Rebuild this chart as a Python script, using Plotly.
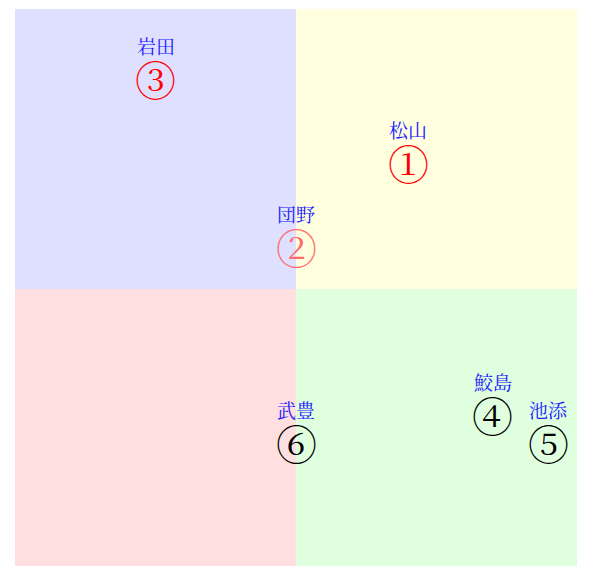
import plotly.graph_objects as go

# riders and their positions
names = ['松山', '団野', '岩田', '鮫島', '池添', '武豊']
marks = ['①', '②', '③', '④', '⑤', '⑥']
x_vals = [0.4, 0.0, -0.5, 0.7, 0.9, 0.0]
y_vals = [0.45, 0.15, 0.75, -0.45, -0.55, -0.55]
mark_colors = ['#ff0000', '#ff6a6a', '#ff0000', '#000000', '#000000', '#000000']

# quadrant backgrounds
quad_x = [(-1, 0), (0, 1), (-1, 0), (0, 1)]
quad_y = [(0, 1), (0, 1), (-1, 0), (-1, 0)]
quad_colors = ['#dfdfff', '#ffffdf', '#ffdfdf', '#dfffdf']

fig = go.Figure()

for (x0, x1), (y0, y1), c in zip(quad_x, quad_y, quad_colors):
    fig.add_shape(type='rect', x0=x0, x1=x1, y0=y0, y1=y1, xref='x', yref='y',
                  fillcolor=c, line=dict(width=0), layer='below')

# invisible points so the axes have data
fig.add_trace(go.Scatter(x=x_vals, y=y_vals, mode='markers', marker=dict(opacity=0),
                         hoverinfo='skip', showlegend=False))

serif = 'Noto Serif CJK JP, DejaVu Serif, Noto Sans CJK JP'
for n, m, c, x, y in zip(names, marks, mark_colors, x_vals, y_vals):
    fig.add_annotation(x=x, y=y, text=m, showarrow=False, yshift=1,
                       font=dict(size=41, color=c, family=serif))
    fig.add_annotation(x=x, y=y, text=n, showarrow=False, yshift=34,
                       font=dict(size=19, color='#2020ff', family=serif))

fig.update_xaxes(range=[-1, 1], showgrid=False, zeroline=False, showticklabels=False,
                 showline=False)
fig.update_yaxes(range=[-0.989, 1], showgrid=False, zeroline=False, showticklabels=False,
                 showline=False)
fig.update_layout(width=587, height=558, margin=dict(l=7, r=18, t=1, b=0),
                  plot_bgcolor='white', paper_bgcolor='white')

fig.write_html('out.html')
